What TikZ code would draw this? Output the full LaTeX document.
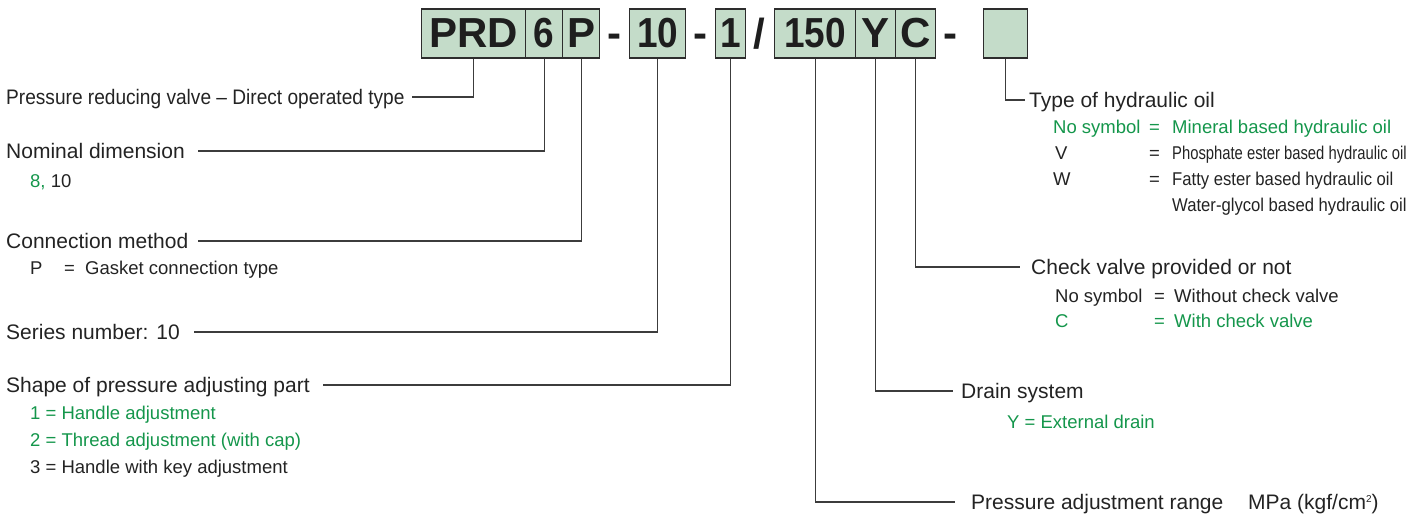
\documentclass[tikz,border=0pt]{standalone}
\usepackage{fontspec}
\setmainfont{Liberation Sans}
\usepackage{graphicx}
\definecolor{boxfill}{RGB}{196,220,201}
\definecolor{boxline}{RGB}{45,45,45}
\definecolor{codetext}{RGB}{30,30,30}
\definecolor{txt}{RGB}{35,35,35}
\definecolor{grn}{RGB}{20,150,75}
\definecolor{lineclr}{RGB}{60,60,60}
\newcommand{\narrowdig}[1]{\scalebox{0.88}[1]{#1}}
\tikzset{
  codebox/.style={draw=boxline, line width=1.4pt, fill=boxfill, minimum height=49pt,
    inner sep=0pt, anchor=west, font=\fontsize{42}{42}\selectfont\bfseries, text=codetext},
  codesep/.style={inner sep=0pt, anchor=base, font=\fontsize{42}{42}\selectfont\bfseries, text=codetext},
  head/.style={font=\fontsize{21}{25}\selectfont, text=txt, inner sep=0pt,
    text height=15pt, text depth=0pt, anchor=west},
  item/.style={font=\fontsize{18.5}{22}\selectfont, text=txt, inner sep=0pt,
    text height=13pt, text depth=0pt, anchor=west},
  gitem/.style={item, text=grn},
  conn/.style={draw=lineclr, line width=1.1pt}
}
\begin{document}
\begin{tikzpicture}[x=1pt,y=-1pt]
\useasboundingbox (0,0) rectangle (1423,516);
% code boxes
\node[codebox, minimum width=104pt] (prd) at (421,33.5) {PRD};
\node[codebox, minimum width=37pt] (six) at (525,33.5) {\narrowdig{6}};
\node[codebox, minimum width=37pt] (pp) at (562,33.5) {P};
\node[codesep] (d1) at (614,47.5) {-};
\node[codebox, minimum width=56pt] (ten) at (629,33.5) {\narrowdig{10}};
\node[codesep] (d2) at (700,47.5) {-};
\node[codebox, minimum width=30pt] (one) at (715,33.5) {\narrowdig{1}};
\node[codesep] (sl) at (759,48.5) {/};
\node[codebox, minimum width=81pt] (range) at (774,33.5) {\narrowdig{150}};
\node[codebox, minimum width=40pt] (yy) at (855,33.5) {Y};
\node[codebox, minimum width=40pt] (cc) at (895,33.5) {C};
\node[codesep] (d3) at (950,47.5) {-};
\node[codebox, minimum width=44pt] (oil) at (983,33.5) {};

% left headings
\node[head] (l1) at (6,97) {\scalebox{0.91}[1]{Pressure reducing valve – Direct operated type}};
\node[head] (l2) at (6,151) {Nominal dimension};
\node[head] (l3) at (6,241) {Connection method};
\node[head] (l4) at (6,332) {Series number: 10};
\node[head] (l5) at (6,385) {Shape of pressure adjusting part};

% left items
\node[item] (n1) at (30,181) {\textcolor{grn}{8,} 10};
\node[item] (c1) at (30,268) {P};
\node[item] (c2) at (64,268) {=};
\node[item] (c3) at (85,268) {Gasket connection type};
\node[gitem] (s1) at (30,413) {1 = Handle adjustment};
\node[gitem] (s2) at (30,440) {2 = Thread adjustment (with cap)};
\node[item] (s3) at (30,467) {3 = Handle with key adjustment};

% right headings
\node[head] (r1) at (1029,100) {Type of hydraulic oil};
\node[head] (r2) at (1031,267) {Check valve provided or not};
\node[head] (r3) at (961,391) {Drain system};
\node[head] (r4) at (971,502) {Pressure adjustment range};
\node[head] (r4b) at (1248,502) {MPa (kgf/cm\raisebox{7pt}{\fontsize{10}{10}\selectfont 2})};

% hydraulic oil items
\node[gitem] (h1a) at (1053,127) {No symbol};
\node[gitem] (h1b) at (1149,127) {=};
\node[gitem] (h1c) at (1172,127) {Mineral based hydraulic oil};
\node[item] (h2a) at (1055,153) {V};
\node[item] (h2b) at (1149,153) {=};
\node[item] (h2c) at (1172,153) {\scalebox{0.8}[1]{Phosphate ester based hydraulic oil}};
\node[item] (h3a) at (1053,179) {W};
\node[item] (h3b) at (1149,179) {=};
\node[item] (h3c) at (1172,179) {\scalebox{0.9}[1]{Fatty ester based hydraulic oil}};
\node[item] (h4c) at (1172,205) {\scalebox{0.9}[1]{Water-glycol based hydraulic oil}};

% check valve items
\node[item] (v1a) at (1055,296) {No symbol};
\node[item] (v1b) at (1154,296) {=};
\node[item] (v1c) at (1174,296) {Without check valve};
\node[gitem] (v2a) at (1055,321) {C};
\node[gitem] (v2b) at (1154,321) {=};
\node[gitem] (v2c) at (1174,321) {With check valve};

% drain item
\node[gitem] (dr1) at (1007,422) {Y = External drain};

% connectors
\draw[conn] (prd.south) |- ([xshift=7pt]l1.east);
\draw[conn] (six.south) |- ([xshift=13pt]l2.east);
\draw[conn] (pp.south) |- ([xshift=9pt]l3.east);
\draw[conn] (ten.south) |- ([xshift=14pt]l4.east);
\draw[conn] (one.south) |- ([xshift=13pt]l5.east);
\draw[conn] (oil.south) |- ([xshift=-4pt]r1.west);
\draw[conn] (cc.south) |- ([xshift=-11pt]r2.west);
\draw[conn] (yy.south) |- ([xshift=-8pt]r3.west);
\draw[conn] (range.south) |- ([xshift=-16pt]r4.west);
\end{tikzpicture}
\end{document}
